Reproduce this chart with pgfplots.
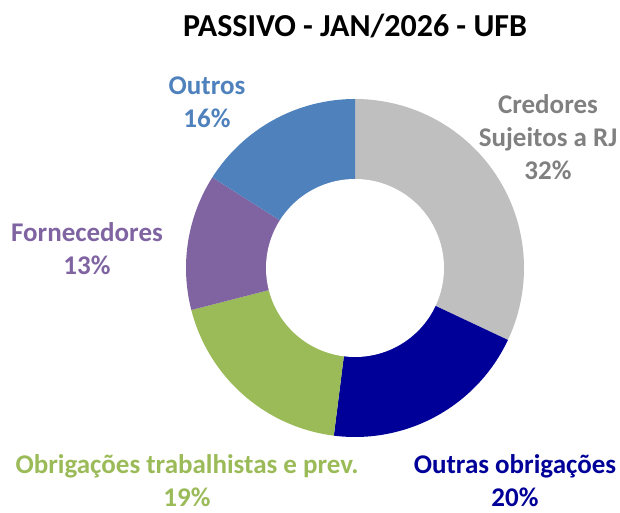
\documentclass[border=0pt]{standalone}
\usepackage{pgfplots}
\usepackage{pgfplotstable}
\usepackage{fontspec}
\setmainfont{Carlito}
\pgfplotsset{compat=1.18}
\definecolor{cCred}{RGB}{191,191,191}
\definecolor{cCredTxt}{RGB}{128,128,128}
\definecolor{cOutrasObr}{RGB}{0,0,153}
\definecolor{cTrab}{RGB}{155,187,89}
\definecolor{cForn}{RGB}{128,100,162}
\definecolor{cOutros}{RGB}{79,129,189}

% share of each liability group (%), clockwise from 12 o'clock
\pgfplotstableread{
grupo valor
Credores 32
OutrasObrigacoes 20
Trabalhistas 19
Fornecedores 13
Outros 16
}\passivo

\pgfplotstablegetelem{0}{valor}\of\passivo \let\vA\pgfplotsretval
\pgfplotstablegetelem{1}{valor}\of\passivo \let\vB\pgfplotsretval
\pgfplotstablegetelem{2}{valor}\of\passivo \let\vC\pgfplotsretval
\pgfplotstablegetelem{3}{valor}\of\passivo \let\vD\pgfplotsretval
\pgfplotstablegetelem{4}{valor}\of\passivo \let\vE\pgfplotsretval
\pgfmathsetmacro{\aZ}{90}
\pgfmathsetmacro{\aA}{\aZ-3.6*\vA}
\pgfmathsetmacro{\aB}{\aA-3.6*\vB}
\pgfmathsetmacro{\aC}{\aB-3.6*\vC}
\pgfmathsetmacro{\aD}{\aC-3.6*\vD}
\pgfmathsetmacro{\aE}{\aD-3.6*\vE}
\def\cx{355}\def\cy{245}\def\ro{169}\def\ri{89}

\begin{document}
\begin{tikzpicture}
\begin{axis}[
  scale only axis,
  width=620pt, height=513pt,
  xmin=0, xmax=620, ymin=0, ymax=513,
  hide axis,
  clip=false,
  samples=90,
  variable=\t,
]
\addplot[fill=cCred, draw=none, domain=\aA:\aZ] ({\cx+\ro*cos(\t)},{\cy+\ro*sin(\t)}) -- (axis cs:\cx,\cy) -- cycle;
\addplot[fill=cOutrasObr, draw=none, domain=\aB:\aA] ({\cx+\ro*cos(\t)},{\cy+\ro*sin(\t)}) -- (axis cs:\cx,\cy) -- cycle;
\addplot[fill=cTrab, draw=none, domain=\aC:\aB] ({\cx+\ro*cos(\t)},{\cy+\ro*sin(\t)}) -- (axis cs:\cx,\cy) -- cycle;
\addplot[fill=cForn, draw=none, domain=\aD:\aC] ({\cx+\ro*cos(\t)},{\cy+\ro*sin(\t)}) -- (axis cs:\cx,\cy) -- cycle;
\addplot[fill=cOutros, draw=none, domain=\aE:\aD] ({\cx+\ro*cos(\t)},{\cy+\ro*sin(\t)}) -- (axis cs:\cx,\cy) -- cycle;
% hole of the donut
\addplot[fill=white, draw=none, domain=0:360, samples=160] ({\cx+\ri*cos(\t)},{\cy+\ri*sin(\t)}) -- cycle;

\node[font=\fontsize{32}{38}\selectfont\bfseries] at (axis cs:355,487) {PASSIVO - JAN/2026 - UFB};
\node[font=\fontsize{27}{33}\selectfont\bfseries, text=cCredTxt, align=center] at (axis cs:548,376) {Credores\\Sujeitos a RJ\\32\%};
\node[font=\fontsize{27}{33}\selectfont\bfseries, text=cOutros, align=center] at (axis cs:207,411) {Outros\\16\%};
\node[font=\fontsize{27}{33}\selectfont\bfseries, text=cForn, align=center] at (axis cs:87,264) {Fornecedores\\13\%};
\node[font=\fontsize{27}{33}\selectfont\bfseries, text=cTrab, align=center] at (axis cs:187,32) {Obrigações trabalhistas e prev.\\19\%};
\node[font=\fontsize{27}{33}\selectfont\bfseries, text=cOutrasObr, align=center] at (axis cs:515,32) {Outras obrigações\\20\%};
\coordinate (bbsw) at (axis cs:0,0);
\coordinate (bbne) at (axis cs:620,513);
\end{axis}
\pgfresetboundingbox
\path (bbsw) rectangle (bbne);
\end{tikzpicture}
\end{document}
